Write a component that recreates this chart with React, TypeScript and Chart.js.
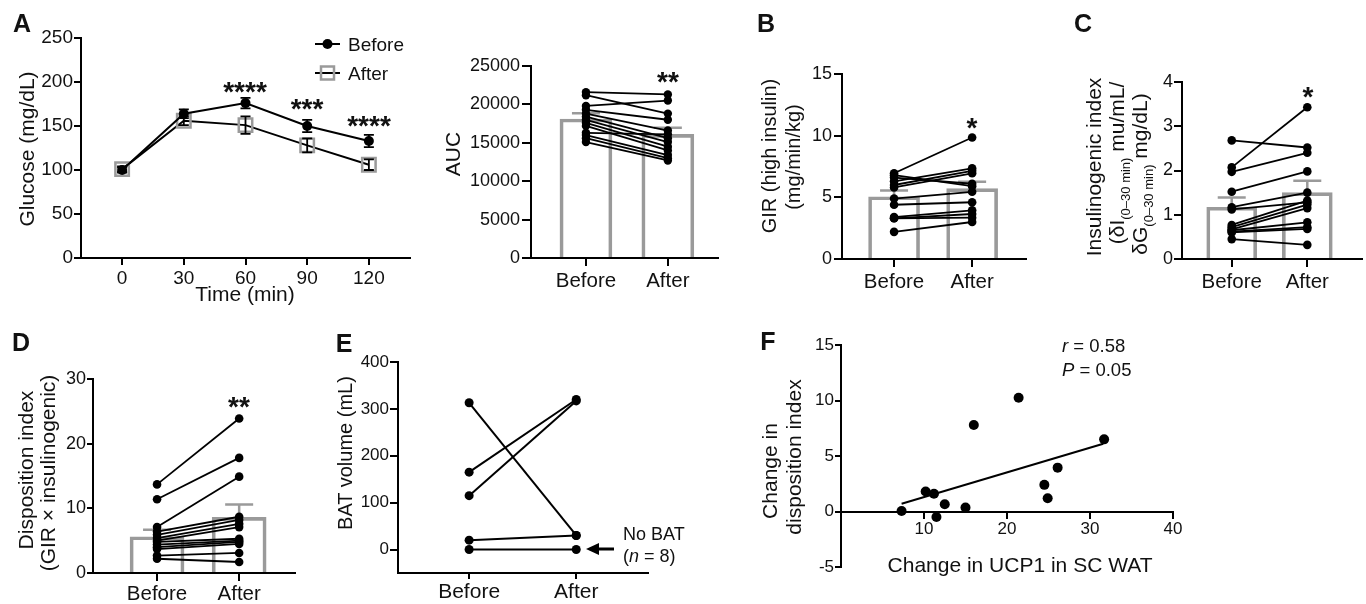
import React, { useEffect, useRef } from 'react';
import { Chart, registerables } from 'chart.js';

Chart.register(...registerables);

const FONT = '"Liberation Sans", Arial, Helvetica, sans-serif';
const GRAY = '#9a9a9a';

// ---------- Panel A: glucose curve ----------
const timePoints = [0, 30, 60, 90, 120];
const glucoseBefore = [100, 164, 176, 150, 133];
const glucoseBeforeSem = [3, 5, 6, 7, 7];
const glucoseAfter = [101, 156, 151, 128, 106];
const glucoseAfterSem = [3, 5, 10, 8, 6];
const glucoseTicks = [0, 50, 100, 150, 200, 250];

// ---------- Panel A: AUC ----------
const groupLabels = ['Before', 'After'];
const aucBefore = [21600, 21200, 19800, 19300, 18800, 18400, 18000, 17600, 17200, 16300, 16000, 15600, 15100];
const aucAfter = [21300, 18800, 20500, 18000, 16600, 15600, 15100, 14500, 14000, 16100, 13400, 13000, 12700];
const aucMean = [18100, 16100];
const aucSem = [750, 850];
const aucTicks = [0, 5000, 10000, 15000, 20000, 25000];

// ---------- Panel B: GIR ----------
const girBefore = [6.95, 6.8, 6.6, 6.3, 6.0, 5.8, 4.9, 4.4, 3.4, 3.3, 3.3, 2.2];
const girAfter = [9.85, 5.9, 6.1, 7.35, 7.15, 6.95, 5.45, 4.6, 3.95, 3.65, 3.35, 3.0];
const girMean = [5.05, 5.7];
const girSem = [0.5, 0.57];
const girTicks = [0, 5, 10, 15];

// ---------- Panel C: insulinogenic index ----------
const igiBefore = [2.68, 2.07, 1.97, 1.52, 1.17, 1.12, 0.77, 0.72, 0.67, 0.65, 0.62, 0.6, 0.45];
const igiAfter = [2.52, 3.43, 2.4, 1.98, 1.5, 1.28, 1.32, 1.23, 1.15, 0.83, 0.72, 0.68, 0.32];
const igiMean = [1.17, 1.5];
const igiSem = [0.22, 0.27];
const igiTicks = [0, 1, 2, 3, 4];

// ---------- Panel D: disposition index ----------
const diBefore = [13.7, 11.4, 7.1, 6.4, 5.9, 5.4, 5.0, 4.8, 4.4, 4.0, 3.7, 2.7, 2.2];
const diAfter = [23.9, 17.8, 14.9, 8.7, 8.2, 7.6, 7.1, 5.3, 5.0, 4.8, 4.5, 3.1, 1.7];
const diMean = [5.6, 8.6];
const diSem = [1.1, 2.0];
const diTicks = [0, 10, 20, 30];

// ---------- Panel E: BAT volume ----------
const batBefore = [313, 165, 115, 20, 0];
const batAfter = [30, 320, 317, 30, 0];
const batTicks = [0, 100, 200, 300, 400];

// ---------- Panel F: correlation ----------
const ucp1Change = [7.3, 10.2, 11.2, 11.5, 12.5, 15.0, 16.0, 21.4, 24.5, 24.9, 26.1, 31.7];
const diChange = [0.05, 1.8, 1.6, -0.5, 0.65, 0.35, 7.8, 10.25, 2.4, 1.2, 3.95, 6.5];
const fitX = [7.3, 31.6];
const fitY = [0.7, 6.1];
const fXTicks = [10, 20, 30, 40];
const fYTicks = [-5, 0, 5, 10, 15];

type Area = { L: number; T: number; R: number; B: number };

function axis(o: {
  min: number; max: number; ticks: number[]; size: number; tl: number; pad: number;
  fitW?: number; fitH?: number; labels?: (v: number) => string; extra?: any;
}) {
  return {
    type: 'linear',
    min: o.min,
    max: o.max,
    offset: false,
    afterBuildTicks: (s: any) => { s.ticks = o.ticks.map((v) => ({ value: v })); },
    afterFit: (s: any) => {
      if (o.fitW !== undefined) s.width = o.fitW;
      if (o.fitH !== undefined) s.height = o.fitH;
    },
    ticks: {
      autoSkip: false, maxRotation: 0, minRotation: 0, padding: o.pad, color: '#111',
      font: { family: FONT, size: o.size },
      callback: (v: any) => (o.labels ? o.labels(Number(v)) : String(v)),
    },
    grid: { offset: false, drawOnChartArea: false, drawTicks: true, tickLength: o.tl, color: '#000', lineWidth: 2 },
    border: { display: true, color: '#000', width: 2 },
    ...(o.extra || {}),
  };
}

const baseOptions = () => ({
  animation: false,
  responsive: true,
  maintainAspectRatio: false,
  events: [],
  plugins: { legend: { display: false }, tooltip: { enabled: false } },
});

function semPlugin(mean: number[], sem: number[]) {
  return {
    id: 'semBars',
    afterDatasetDraw(chart: any, args: any) {
      if (args.index !== 0) return;
      const { ctx } = chart;
      const x = chart.scales.x;
      const y = chart.scales.y;
      ctx.save();
      ctx.strokeStyle = GRAY;
      ctx.lineWidth = 2.5;
      mean.forEach((m, i) => {
        const px = x.getPixelForValue(i + 1);
        const y0 = y.getPixelForValue(m);
        const y1 = y.getPixelForValue(m + sem[i]);
        ctx.beginPath();
        ctx.moveTo(px, y0);
        ctx.lineTo(px, y1);
        ctx.moveTo(px - 14, y1);
        ctx.lineTo(px + 14, y1);
        ctx.stroke();
      });
      ctx.restore();
    },
  };
}

function pairedChart(p: {
  before: number[]; after: number[]; mean?: number[]; sem?: number[];
  xMin: number; xMax: number; yMin: number; yMax: number; yTicks: number[];
  yW: number; xH: number; barW?: number; r: number; lw: number;
  ySize: number; yTl: number; yPad: number; xSize: number; xTl: number; xPad: number;
}) {
  const datasets: any[] = [];
  if (p.mean) {
    datasets.push({
      type: 'bar',
      data: p.mean.map((m, i) => ({ x: i + 1, y: m })),
      backgroundColor: 'rgba(255,255,255,0)',
      borderColor: GRAY,
      borderWidth: 3,
      barThickness: p.barW,
      borderSkipped: 'bottom',
      order: 10,
    });
  }
  p.before.forEach((b, i) => {
    datasets.push({
      type: 'line',
      data: [{ x: 1, y: b }, { x: 2, y: p.after[i] }],
      borderColor: '#000',
      borderWidth: p.lw,
      pointRadius: p.r,
      pointBackgroundColor: '#000',
      pointBorderColor: '#000',
      pointBorderWidth: 0,
      tension: 0,
      order: 1,
    });
  });
  const plugins: any[] = [];
  if (p.mean && p.sem) plugins.push(semPlugin(p.mean, p.sem));
  return {
    type: 'line',
    data: { datasets },
    plugins,
    options: {
      ...baseOptions(),
      scales: {
        x: axis({
          min: p.xMin, max: p.xMax, ticks: [1, 2], size: p.xSize, tl: p.xTl, pad: p.xPad, fitH: p.xH,
          labels: (v) => (v === 1 ? groupLabels[0] : v === 2 ? groupLabels[1] : ''),
        }),
        y: axis({ min: p.yMin, max: p.yMax, ticks: p.yTicks, size: p.ySize, tl: p.yTl, pad: p.yPad, fitW: p.yW }),
      },
    },
  };
}

function glucoseChart(yW: number, xH: number) {
  const errPlugin = {
    id: 'glucoseErr',
    afterDatasetsDraw(chart: any) {
      const { ctx } = chart;
      const x = chart.scales.x;
      const y = chart.scales.y;
      ctx.save();
      ctx.strokeStyle = '#000';
      ctx.lineWidth = 1.8;
      const draw = (vals: number[], errs: number[]) => {
        vals.forEach((v, i) => {
          const px = x.getPixelForValue(timePoints[i]);
          const yt = y.getPixelForValue(v + errs[i]);
          const yb = y.getPixelForValue(v - errs[i]);
          ctx.beginPath();
          ctx.moveTo(px, yt); ctx.lineTo(px, yb);
          ctx.moveTo(px - 5, yt); ctx.lineTo(px + 5, yt);
          ctx.moveTo(px - 5, yb); ctx.lineTo(px + 5, yb);
          ctx.stroke();
        });
      };
      draw(glucoseBefore, glucoseBeforeSem);
      draw(glucoseAfter, glucoseAfterSem);
      ctx.restore();
    },
  };
  return {
    type: 'line',
    data: {
      datasets: [
        {
          label: 'Before',
          data: timePoints.map((t, i) => ({ x: t, y: glucoseBefore[i] })),
          borderColor: '#000', borderWidth: 2, pointRadius: 5,
          pointBackgroundColor: '#000', pointBorderColor: '#000', pointBorderWidth: 0, tension: 0,
        },
        {
          label: 'After',
          data: timePoints.map((t, i) => ({ x: t, y: glucoseAfter[i] })),
          borderColor: '#000', borderWidth: 2, pointStyle: 'rect', pointRadius: 9.5,
          pointBackgroundColor: 'rgba(0,0,0,0)', pointBorderColor: GRAY, pointBorderWidth: 2.5, tension: 0,
        },
      ],
    },
    plugins: [errPlugin],
    options: {
      ...baseOptions(),
      scales: {
        x: axis({ min: -20, max: 140, ticks: timePoints, size: 19, tl: 7, pad: 2, fitH: xH }),
        y: axis({ min: 0, max: 250, ticks: glucoseTicks, size: 19, tl: 7, pad: 1, fitW: yW }),
      },
    },
  };
}

function correlationChart(yW: number) {
  return {
    type: 'scatter',
    data: {
      datasets: [
        {
          type: 'scatter',
          data: ucp1Change.map((v, i) => ({ x: v, y: diChange[i] })),
          pointRadius: 5, pointBackgroundColor: '#000', pointBorderColor: '#000', pointBorderWidth: 0,
          backgroundColor: '#000', order: 0,
        },
        {
          type: 'line',
          data: fitX.map((v, i) => ({ x: v, y: fitY[i] })),
          borderColor: '#000', borderWidth: 2, pointRadius: 0, tension: 0, order: 1,
        },
      ],
    },
    options: {
      ...baseOptions(),
      scales: {
        x: axis({ min: 0, max: 40, ticks: fXTicks, size: 17, tl: 6, pad: 2, extra: { position: { y: 0 } } }),
        y: axis({ min: -5, max: 15, ticks: fYTicks, size: 17, tl: 6, pad: 1, fitW: yW }),
      },
    },
  };
}

function ChartBox({ area, yW, xH, padTop = 14, padRight = 14, padBottom = 0, build }: {
  area: Area; yW: number; xH: number; padTop?: number; padRight?: number; padBottom?: number; build: () => any;
}) {
  const ref = useRef<HTMLCanvasElement>(null);
  const w = area.R - area.L + yW + padRight;
  const h = area.B - area.T + padTop + xH + padBottom;
  useEffect(() => {
    const cfg = build();
    cfg.options.layout = { padding: { top: padTop, right: padRight, bottom: padBottom, left: 0 } };
    const c = new Chart(ref.current as HTMLCanvasElement, cfg);
    return () => c.destroy();
  }, []);
  return (
    <div style={{ position: 'absolute', left: area.L - yW, top: area.T - padTop, width: w, height: h }}>
      <canvas ref={ref} />
    </div>
  );
}

function HText({ x, y, size = 20, anchor = 'middle', weight = 400, children, style }: any) {
  return (
    <div
      style={{
        position: 'absolute', left: x, top: y,
        transform: `translate(${anchor === 'middle' ? '-50%' : '0'}, -50%)`,
        fontSize: size, lineHeight: 1, whiteSpace: 'nowrap', fontFamily: FONT,
        fontWeight: weight, color: '#111', ...(style || {}),
      }}
    >
      {children}
    </div>
  );
}

function VText({ x, y, size = 21, children }: any) {
  return (
    <div
      style={{
        position: 'absolute', left: x, top: y,
        transform: 'translate(-50%, -50%) rotate(-90deg)',
        fontSize: size, lineHeight: 1, whiteSpace: 'nowrap', fontFamily: FONT, color: '#111',
      }}
    >
      {children}
    </div>
  );
}

const Sub = ({ children }: any) => (
  <span style={{ fontSize: 13, position: 'relative', top: 6 }}>{children}</span>
);

const Stars = ({ x, y, n }: any) => (
  <HText x={x} y={y + 6.5} size={28} weight={700}>{'*'.repeat(n)}</HText>
);

const Letter = ({ x, y, t }: any) => (
  <HText x={x} y={y} size={25} weight={700}>{t}</HText>
);

const areaA: Area = { L: 81, T: 38, R: 410, B: 258 };
const areaAUC: Area = { L: 531, T: 66, R: 718, B: 258 };
const areaB: Area = { L: 842, T: 74, R: 1026, B: 259 };
const areaC: Area = { L: 1182, T: 82, R: 1363, B: 259 };
const areaD: Area = { L: 93, T: 379, R: 295, B: 573 };
const areaE: Area = { L: 398, T: 362, R: 648, B: 573 };
const areaF: Area = { L: 841, T: 345, R: 1173, B: 567 };

export default function App() {
  return (
    <div style={{ position: 'absolute', left: 0, top: 0, width: 1366, height: 604, background: '#fff', overflow: 'hidden', fontFamily: FONT }}>
      <ChartBox area={areaA} yW={60} xH={28} build={() => glucoseChart(60, 28)} />
      <ChartBox area={areaAUC} yW={70} xH={32} padRight={4} build={() => pairedChart({
        before: aucBefore, after: aucAfter, mean: aucMean, sem: aucSem,
        xMin: 0.329, xMax: 2.61, yMin: 0, yMax: 25000, yTicks: aucTicks, yW: 70, xH: 32, barW: 52,
        r: 4.2, lw: 1.8, ySize: 18, yTl: 9, yPad: 2, xSize: 20.5, xTl: 8, xPad: 3,
      })} />
      <ChartBox area={areaB} yW={45} xH={32} padRight={6} build={() => pairedChart({
        before: girBefore, after: girAfter, mean: girMean, sem: girSem,
        xMin: 0.333, xMax: 2.69, yMin: 0, yMax: 15, yTicks: girTicks, yW: 45, xH: 32, barW: 51,
        r: 4.3, lw: 1.8, ySize: 18, yTl: 8, yPad: 2, xSize: 20.5, xTl: 8, xPad: 3,
      })} />
      <ChartBox area={areaC} yW={35} xH={32} padRight={3} build={() => pairedChart({
        before: igiBefore, after: igiAfter, mean: igiMean, sem: igiSem,
        xMin: 0.342, xMax: 2.72, yMin: 0, yMax: 4, yTicks: igiTicks, yW: 35, xH: 32, barW: 50,
        r: 4.3, lw: 1.8, ySize: 18, yTl: 8, yPad: 1, xSize: 20.5, xTl: 8, xPad: 3,
      })} />
      <ChartBox area={areaD} yW={45} xH={31} padRight={6} build={() => pairedChart({
        before: diBefore, after: diAfter, mean: diMean, sem: diSem,
        xMin: 0.22, xMax: 2.68, yMin: 0, yMax: 30, yTicks: diTicks, yW: 45, xH: 31, barW: 54,
        r: 4.3, lw: 1.8, ySize: 18, yTl: 6, yPad: 1, xSize: 20.5, xTl: 8, xPad: 1,
      })} />
      <ChartBox area={areaE} yW={50} xH={31} padRight={6} build={() => pairedChart({
        before: batBefore, after: batAfter,
        xMin: 0.336, xMax: 2.67, yMin: -50, yMax: 400, yTicks: batTicks, yW: 50, xH: 31,
        r: 4.5, lw: 2, ySize: 17, yTl: 8, yPad: 1, xSize: 21, xTl: 6, xPad: 1,
      })} />
      <ChartBox area={areaF} yW={40} xH={0} padBottom={14} padRight={14} build={() => correlationChart(40)} />

      <svg width={1366} height={604} style={{ position: 'absolute', left: 0, top: 0 }}>
        <line x1={315} y1={44} x2={340} y2={44} stroke="#000" strokeWidth={2} />
        <circle cx={327.5} cy={44} r={5} fill="#000" />
        <line x1={315} y1={73} x2={340} y2={73} stroke="#000" strokeWidth={2} />
        <rect x={321} y={66.5} width={13} height={13} fill="none" stroke={GRAY} strokeWidth={2.5} />
        <line x1={614} y1={549} x2={596} y2={549} stroke="#000" strokeWidth={3} />
        <polygon points="586,549 599,543 599,555" fill="#000" />
      </svg>

      {/* panel letters */}
      <Letter x={22} y={23} t="A" />
      <Letter x={766} y={22.5} t="B" />
      <Letter x={1083} y={23} t="C" />
      <Letter x={21} y={341.5} t="D" />
      <Letter x={344} y={343} t="E" />
      <Letter x={768} y={341} t="F" />

      {/* legend A */}
      <HText x={348} y={44} size={19} anchor="start">Before</HText>
      <HText x={348} y={73} size={19} anchor="start">After</HText>

      {/* significance */}
      <Stars x={245} y={85.5} n={4} />
      <Stars x={307} y={102} n={3} />
      <Stars x={369} y={119} n={4} />
      <Stars x={668} y={75} n={2} />
      <Stars x={972} y={121} n={1} />
      <Stars x={1308} y={90} n={1} />
      <Stars x={239} y={400} n={2} />

      {/* axis titles */}
      <VText x={26} y={149} size={21}>Glucose (mg/dL)</VText>
      <HText x={245} y={293} size={21}>Time (min)</HText>
      <VText x={452} y={154} size={21}>AUC</VText>
      <VText x={769} y={156} size={20}>GIR (high insulin)</VText>
      <VText x={793} y={157} size={20}>(mg/min/kg)</VText>
      <VText x={1093} y={167} size={21}>Insulinogenic index</VText>
      <VText x={1116} y={163} size={21}>(δI<Sub>(0–30 min)</Sub> mu/mL/</VText>
      <VText x={1139} y={174} size={21}>δG<Sub>(0–30 min)</Sub> mg/dL)</VText>
      <VText x={25} y={470} size={21}>Disposition index</VText>
      <VText x={47} y={473} size={21}>(GIR × insulinogenic)</VText>
      <VText x={345} y={453} size={20}>BAT volume (mL)</VText>
      <VText x={769} y={471} size={21}>Change in</VText>
      <VText x={793} y={457} size={21}>disposition index</VText>
      <HText x={1020} y={564} size={21}>Change in UCP1 in SC WAT</HText>

      {/* annotations */}
      <HText x={623} y={534} size={18} anchor="start">No BAT</HText>
      <HText x={623} y={556} size={18} anchor="start">(<i>n</i> = 8)</HText>
      <HText x={1062} y={346} size={18.5} anchor="start"><i>r</i> = 0.58</HText>
      <HText x={1062} y={369.5} size={18.5} anchor="start"><i>P</i> = 0.05</HText>
    </div>
  );
}
